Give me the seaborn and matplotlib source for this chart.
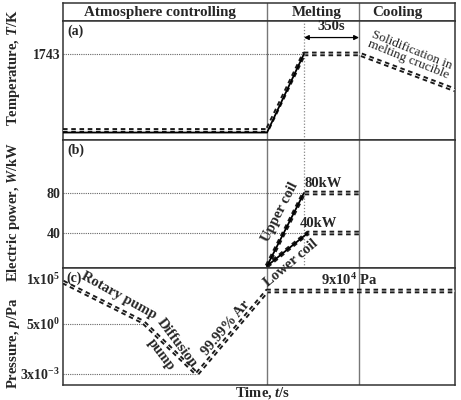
import numpy as np
import pandas as pd
import matplotlib
matplotlib.use("Agg")
import matplotlib.pyplot as plt
import seaborn as sns

sns.set_theme(style="white")
plt.rcParams['font.family'] = ['Liberation Serif', 'DejaVu Serif']
plt.rcParams['font.weight'] = 'bold'
plt.rcParams['mathtext.fontset'] = 'custom'
plt.rcParams['mathtext.rm'] = 'Liberation Serif:bold'
plt.rcParams['mathtext.it'] = 'Liberation Serif:italic:bold'
plt.rcParams['mathtext.bf'] = 'Liberation Serif:bold'

# ---------------- data ----------------
phases = ["Atmosphere controlling", "Melting", "Cooling"]
phase_bounds = [0, 1275, 1850, 2450]   # s
melt_start = 1506                      # s (start of 350 s hold)

# (a) temperature
temp_set_t = [0, 1275, 1506, 1850, 2450]
temp_set_v = [310, 310, 1743, 1743, 1068]
temp_meas_t = [0, 1275, 1506]
temp_meas_v = [270, 270, 1743]
temp_ticks = [1743]

# (b) electric power
upper_t = [1275, 1506, 1850]
upper_v = [7, 80, 80]
lower_t = [1275, 1530, 1850]
lower_v = [7, 40, 40]
power_ticks = [40, 80]

# (c) pressure (schematic positions)
press_t = [0, 500, 837, 1275, 2450]
press_pos = [103, 63, 11, 94, 94]
press_tick_pos = [11, 61, 106]
press_tick_lab = ["3x10$^{-3}$", "5x10$^{0}$", "1x10$^{5}$"]

# ---------------- figure ----------------
W, H = 461, 400
fig = plt.figure(figsize=(W / 100, H / 100), dpi=100)

def fx(px):
    return px / W

def fy(py):
    return 1 - py / H

L, R = 63, 455
ax_h = fig.add_axes([fx(L), fy(21), fx(R - L), (21 - 3) / H])
ax_a = fig.add_axes([fx(L), fy(140), fx(R - L), (140 - 21) / H])
ax_b = fig.add_axes([fx(L), fy(268), fx(R - L), (268 - 140) / H])
ax_c = fig.add_axes([fx(L), fy(385), fx(R - L), (385 - 268) / H])

frame_col = "#333333"
for ax in (ax_h, ax_a, ax_b, ax_c):
    ax.set_xlim(phase_bounds[0], phase_bounds[-1])
    ax.set_xticks([])
    ax.set_facecolor("white")
    for s in ax.spines.values():
        s.set_visible(True)
        s.set_color(frame_col)
        s.set_linewidth(1.1)
    ax.tick_params(axis='y', length=0, pad=2, labelsize=10)
    for b in phase_bounds[1:3]:
        ax.axvline(b, color="#777777", lw=1.0, zorder=1)

for ax in (ax_a, ax_b):
    ax.axvline(melt_start, color="#888888", lw=0.9, ls=(0, (1, 1.5)), zorder=1)

# header
ax_h.set_ylim(0, 1)
ax_h.set_yticks([])
hdr_x = [606, 1588, 2088]
for name, x in zip(phases, hdr_x):
    ax_h.text(x, 0.45, name, ha="center", va="center", fontsize=10.8, fontweight="bold")


def dashed(ax, t, v):
    df = pd.DataFrame({"t": t, "v": v})
    sns.lineplot(data=df, x="t", y="v", ax=ax, color="#1a1a1a", lw=3.3,
                 linestyle=(0, (1.0, 0.8)), estimator=None, sort=False, zorder=3)
    sns.lineplot(data=df, x="t", y="v", ax=ax, color="white", lw=0.55,
                 estimator=None, sort=False, zorder=4)


def solid(ax, t, v):
    df = pd.DataFrame({"t": t, "v": v})
    sns.lineplot(data=df, x="t", y="v", ax=ax, color="black", lw=1.3,
                 estimator=None, sort=False, zorder=5)

# ---- (a) ----
ax_a.set_ylim(130, 2360)
dashed(ax_a, temp_set_t, temp_set_v)
solid(ax_a, temp_meas_t, temp_meas_v)
ax_a.set_yticks(temp_ticks)
ax_a.set_yticklabels([str(v) for v in temp_ticks], fontweight="bold")
ax_a.hlines(temp_ticks, 0, melt_start, color="#666666", lw=0.8, ls=(0, (1, 1)), zorder=1)
ax_a.text(0.012, 0.97, "(a)", transform=ax_a.transAxes, ha="left", va="top",
          fontsize=10, fontweight="bold")
ax_a.annotate("", xy=(melt_start, 2050), xytext=(1850, 2050),
              arrowprops=dict(arrowstyle="<|-|>", color="black", lw=0.9,
                              shrinkA=0, shrinkB=0, mutation_scale=7))
ax_a.text((melt_start + 1850) / 2, 2130, "350s", ha="center", va="bottom",
          fontsize=10.5, fontweight="bold")
ax_a.text(2170, 1730, "Solidification in\nmelting crucible", ha="center", va="center",
          rotation=-22, fontsize=9.5, fontweight="normal", linespacing=0.8)

# ---- (b) ----
ax_b.set_ylim(5, 133)
dashed(ax_b, upper_t, upper_v)
dashed(ax_b, lower_t, lower_v)
solid(ax_b, upper_t[:2], upper_v[:2])
solid(ax_b, lower_t[:2], lower_v[:2])
ax_b.set_yticks(power_ticks)
ax_b.set_yticklabels([str(v) for v in power_ticks], fontweight="bold")
ax_b.hlines(power_ticks, 0, melt_start, color="#666666", lw=0.8, ls=(0, (1, 1)), zorder=1)
ax_b.text(0.012, 0.97, "(b)", transform=ax_b.transAxes, ha="left", va="top",
          fontsize=10, fontweight="bold")
ax_b.text(1510, 83, "80kW", ha="left", va="bottom", fontsize=10.5, fontweight="bold")
ax_b.text(1480, 43, "40kW", ha="left", va="bottom", fontsize=10.5, fontweight="bold")
ax_b.text(1355, 61, "Upper coil", ha="center", va="center", rotation=63,
          fontsize=10.5, fontweight="bold")
fig.text(1425, 10, "Lower coil", ha="center", va="center", rotation=40,
         fontsize=10.5, fontweight="bold", transform=ax_b.transData)

# ---- (c) ----
ax_c.set_ylim(0, 117)
dashed(ax_c, press_t, press_pos)
ax_c.set_yticks(press_tick_pos)
ax_c.set_yticklabels(press_tick_lab, fontweight="bold")
ax_c.hlines([61], 0, 500, color="#666666", lw=0.8, ls=(0, (1, 1)), zorder=1)
ax_c.hlines([11], 0, 837, color="#666666", lw=0.8, ls=(0, (1, 1)), zorder=1)
ax_c.text(0.008, 0.97, "(c)", transform=ax_c.transAxes, ha="left", va="top",
          fontsize=10, fontweight="bold")
ax_c.text(350, 89, "Rotary pump", ha="center", va="center", rotation=-29,
          fontsize=10.5, fontweight="bold", zorder=6)
ax_c.text(662, 36, "Diffusion\npump", ha="center", va="center", rotation=-53,
          fontsize=10.5, fontweight="bold", linespacing=1.6, zorder=6)
ax_c.text(1020, 57, "99.99% Ar", ha="center", va="center", rotation=50,
          fontsize=10.5, fontweight="bold", zorder=6)
ax_c.text(1790, 97, "9x10$^{4}$ Pa", ha="center", va="bottom", fontsize=10.5,
          fontweight="bold")

for ax in (ax_a, ax_b, ax_c):
    ax.set_xlabel("")
    ax.set_ylabel("")

# axis labels
fig.text(fx(14), fy(68), "Temperature, $\\mathit{T}$/K", rotation=90, ha="center",
         va="center", fontsize=10.5, fontweight="bold")
fig.text(fx(14), fy(212), "Electric power, $\\mathit{W}$/kW", rotation=90, ha="center",
         va="center", fontsize=10.5, fontweight="bold")
fig.text(fx(14), fy(343), "Pressure, $\\mathit{p}$/Pa", rotation=90, ha="center",
         va="center", fontsize=10.5, fontweight="bold")
fig.text(fx(263), fy(393), "Time, $\\mathit{t}$/s", ha="center", va="center",
         fontsize=10.5, fontweight="bold")

fig.savefig("out.png", dpi=100)
